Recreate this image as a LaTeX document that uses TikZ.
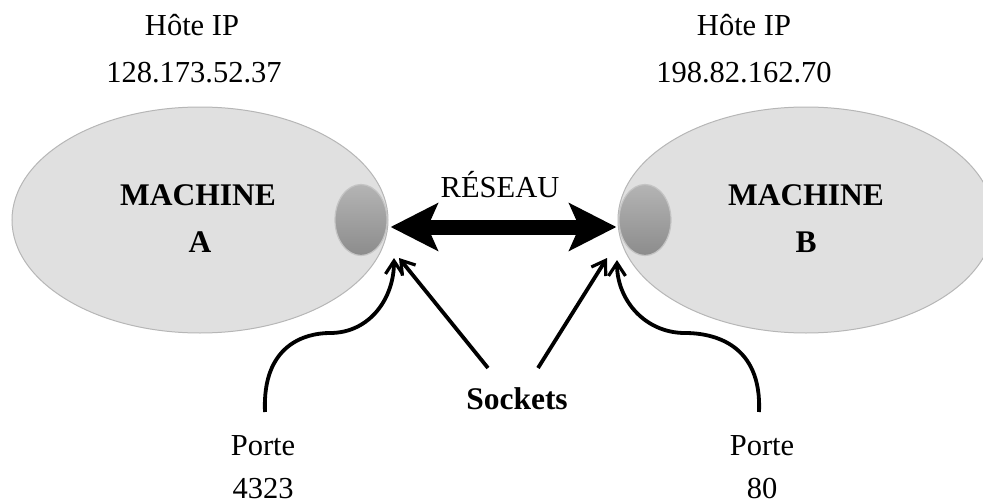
\documentclass[tikz,border=0pt]{standalone}
\usepackage{fontspec}
\setmainfont{Liberation Serif}
\usetikzlibrary{shapes.geometric,arrows.meta}
\definecolor{machfill}{HTML}{E0E0E0}
\definecolor{machline}{HTML}{B6B6B6}
\definecolor{socktop}{HTML}{B4B4B4}
\definecolor{sockbot}{HTML}{8C8C8C}
\definecolor{sockline}{HTML}{C4C4C4}
\tikzset{
  machine/.style={ellipse, fill=machfill, draw=machline, line width=1pt, inner sep=0pt,
    minimum width=376pt, minimum height=226pt},
  sockend/.style={ellipse, top color=socktop, bottom color=sockbot, draw=sockline, line width=1.2pt,
    inner sep=0pt, minimum width=52pt, minimum height=71pt},
  lbl/.style={anchor=base, inner sep=0pt, font=\fontsize{30.5}{36}\selectfont},
  blbl/.style={anchor=base, inner sep=0pt, font=\fontsize{31.5}{36}\selectfont\bfseries},
  thin arrow/.style={line width=3.8pt, -{Straight Barb[length=13pt,width=17pt,line width=3.2pt]}},
  big arrow/.style={line width=15pt, {Stealth[length=47pt,width=47pt,inset=10pt]}-{Stealth[length=47pt,width=47pt,inset=10pt]}}
}
\begin{document}
\begin{tikzpicture}[x=1pt,y=-1pt]
\useasboundingbox (0,0) rectangle (983,503);
\clip (0,0) rectangle (983,503);
% machines
\node[machine] (mA) at (200,220) {};
\node[machine] (mB) at (806,220) {};
\node[sockend] (sA) at (361,220) {};
\node[sockend] (sB) at (645,220) {};
% machine labels
\node[blbl] (tA1) at (198,205) {MACHINE};
\node[blbl] (tA2) at (200,252) {A};
\node[blbl] (tB1) at (806,205) {MACHINE};
\node[blbl] (tB2) at (806,252) {B};
% host labels
\node[lbl] (hA1) at (192,36) {Hôte IP};
\node[lbl] (hA2) at (194,82) {128.173.52.37};
\node[lbl] (hB1) at (744,36) {Hôte IP};
\node[lbl] (hB2) at (744,82) {198.82.162.70};
% port labels
\node[lbl] (pA1) at (263,455) {Porte};
\node[lbl] (pA2) at (263,498) {4323};
\node[lbl] (pB1) at (762,455) {Porte};
\node[lbl] (pB2) at (762,498) {80};
% network
\node[lbl] (net) at (500,197) {RÉSEAU};
\node[blbl] (sock) at (517,409) {Sockets};
% connectors
\draw[big arrow] ([shift={(3,7)}]sA.east) -- ([shift={(-2,7)}]sB.west);
\coordinate (cA) at (265,412);
\coordinate (cB) at (759,412);
\coordinate (kA) at (488,368);
\coordinate (kB) at (538,368);
\coordinate (tipA1) at (394,258);
\coordinate (tipA2) at (399,258);
\coordinate (tipB1) at (607,258);
\coordinate (tipB2) at (617,260);
\draw[thin arrow] (cA) .. controls (262,345) and (305,333) .. (330,333) .. controls (370,333) and (394,298) .. (tipA1);
\draw[thin arrow] (kA) -- (tipA2);
\draw[thin arrow] (kB) -- (tipB1);
\draw[thin arrow] (cB) .. controls (762,345) and (715,333) .. (685,333) .. controls (645,333) and (617,300) .. (tipB2);
\end{tikzpicture}
\end{document}
